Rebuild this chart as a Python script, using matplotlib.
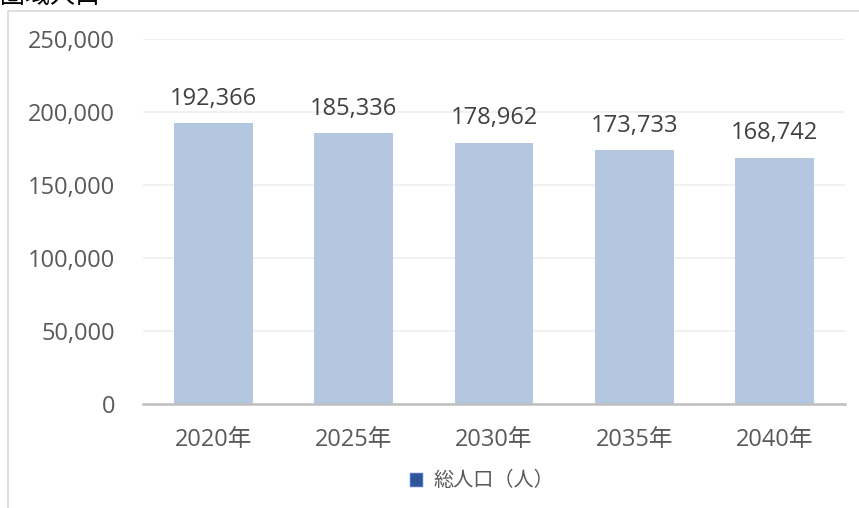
import matplotlib.pyplot as plt
from matplotlib.patches import Rectangle

plt.rcParams['font.family'] = ['Open Sans', 'Noto Sans CJK JP', 'DejaVu Sans']

years = ['2020年', '2025年', '2030年', '2035年', '2040年']
population = [192366, 185336, 178962, 173733, 168742]
y_ticks = [0, 50000, 100000, 150000, 200000, 250000]

text_col = '#595959'
bar_col = '#B4C7E1'

fig = plt.figure(figsize=(8.59, 5.08), dpi=100)
W, H = 859, 508

# outer chart frame (cut off at right and bottom)
fig.patches.append(Rectangle((8 / W, -0.1), 1.0, 1 - 11 / H + 0.1,
                             transform=fig.transFigure, fill=False,
                             edgecolor='#D9D9D9', linewidth=1.2))
# title, mostly cut off at top as in the source image
fig.text(0 / W, 1 - 9 / H, '圏域人口', fontsize=18, color='#000000',
         ha='left', va='bottom', family=['Noto Sans CJK JP'])

ax = fig.add_axes([143 / W, 1 - 404 / H, (845 - 143) / W, (404 - 39) / H])
x = range(len(years))
bars = ax.bar(x, population, width=0.56, color=bar_col, zorder=2,
              label='総人口（人）')
ax.set_xlim(-0.5, len(years) - 0.5)
ax.set_ylim(0, 250000)
ax.set_yticks(y_ticks)
ax.set_yticklabels([f'{v:,}' for v in y_ticks])
ax.set_xticks(list(x))
ax.set_xticklabels(years)
ax.grid(axis='y', color='#EFEFEF', linewidth=1.2, zorder=0)
for s in ['top', 'right', 'left']:
    ax.spines[s].set_visible(False)
ax.spines['bottom'].set_color('#BFBFBF')
ax.spines['bottom'].set_linewidth(1.8)
ax.tick_params(axis='both', length=0, labelsize=17, colors=text_col)
ax.tick_params(axis='y', pad=20)
ax.tick_params(axis='x', pad=17)
for t in ax.get_xticklabels():
    t.set_family(['Open Sans', 'Noto Sans CJK JP'])

for b, v in zip(bars, population):
    ax.annotate(f'{v:,}', (b.get_x() + b.get_width() / 2, v),
                xytext=(0, 9), textcoords='offset points',
                ha='center', va='bottom', fontsize=17, color='#404040')

leg = fig.legend(handles=[Rectangle((0, 0), 1, 1, facecolor='#2F5597',
                                    edgecolor='#4472C4')],
                 labels=['総人口（人）'], loc='center',
                 bbox_to_anchor=(482 / W, 1 - 481 / H), frameon=False,
                 handlelength=0.6, handleheight=0.6, handletextpad=0.6,
                 prop={'family': ['Noto Sans CJK JP'], 'size': 14.5})
for t in leg.get_texts():
    t.set_color(text_col)

fig.savefig('out.png', dpi=100)
